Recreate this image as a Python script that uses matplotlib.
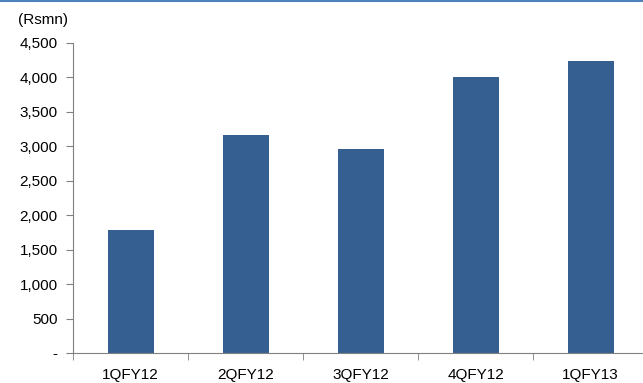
import matplotlib.pyplot as plt
import numpy as np

quarters = ["1QFY12", "2QFY12", "3QFY12", "4QFY12", "1QFY13"]
revenue = [1790, 3160, 2965, 4010, 4245]
yticks = [0, 500, 1000, 1500, 2000, 2500, 3000, 3500, 4000, 4500]
ytick_labels = ["-", "500", "1,000", "1,500", "2,000", "2,500",
                "3,000", "3,500", "4,000", "4,500"]

plt.rcParams["font.family"] = ["Liberation Sans Narrow", "Liberation Sans", "DejaVu Sans"]

fig = plt.figure(figsize=(6.43, 3.83), dpi=100)
ax = fig.add_axes([73 / 643, 30 / 383, 575 / 643, 310 / 383])

x = np.arange(len(quarters))
ax.bar(x, revenue, width=0.4, color="#365F91", zorder=2)

ax.set_xlim(-0.5, len(quarters) - 0.5)
ax.set_ylim(0, 4500)
ax.set_yticks(yticks)
ax.set_yticklabels(ytick_labels, fontsize=11)

# category labels centred, tick marks on the boundaries
ax.set_xticks(x)
ax.set_xticklabels(quarters, fontsize=11)
ax.tick_params(axis="x", length=0, pad=11)
ax.set_xticks(np.arange(-0.5, len(quarters), 1), minor=True)
ax.tick_params(axis="x", which="minor", length=5, color="#808080")
ax.tick_params(axis="y", length=5, color="#808080", pad=6)

for side in ["top", "right"]:
    ax.spines[side].set_visible(False)
for side in ["left", "bottom"]:
    ax.spines[side].set_color("#808080")

fig.text(18 / 643, 1 - 20 / 383, "(Rsmn)", fontsize=11, va="center")

# blue rule along the top
fig.add_artist(plt.Line2D([0, 1], [0.998, 0.998], color="#4F81BD", lw=1.5))

fig.savefig("out.png", dpi=100)
